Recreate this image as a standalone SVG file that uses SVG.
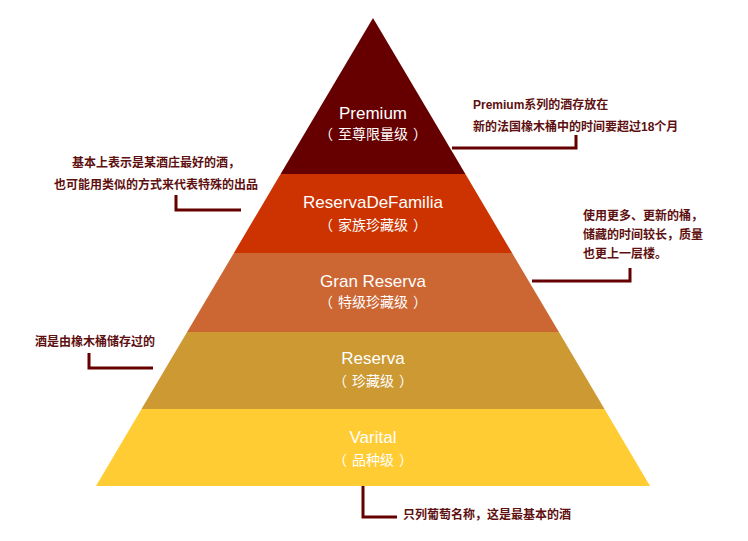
<svg xmlns="http://www.w3.org/2000/svg" width="748" height="541" viewBox="0 0 748 541">
<style>
text{text-spacing-trim:space-all}
.t{font-family:"Liberation Sans","Noto Sans CJK SC",sans-serif;fill:#fff;text-anchor:middle}
.en{font-size:17px}
.zh{font-size:14px;font-family:"Noto Sans CJK SC","Liberation Sans",sans-serif}
.n{font-family:"Liberation Sans","Noto Sans CJK SC",sans-serif;font-size:12px;fill:#5e1010;font-weight:bold}
.c{fill:none;stroke:#660000;stroke-width:3}
</style>
<rect width="748" height="541" fill="#fff"/>
<g id="premium">
<polygon points="373,18 465.4,174 280.6,174" fill="#660000"/>
<text class="t en" x="373" y="119">Premium</text>
<text class="t zh" x="373" y="139">（<tspan dx="5">至尊限量级</tspan><tspan dx="5">）</tspan></text>
</g>
<g id="reservadefamilia">
<polygon points="280.6,174 465.4,174 512.1,253 233.9,253" fill="#cc3300"/>
<text class="t en" x="373" y="208">ReservaDeFamilia</text>
<text class="t zh" x="373" y="230">（<tspan dx="5">家族珍藏级</tspan><tspan dx="5">）</tspan></text>
</g>
<g id="granreserva">
<polygon points="233.9,253 512.1,253 558.9,332 187.1,332" fill="#cc6633"/>
<text class="t en" x="373" y="287">Gran Reserva</text>
<text class="t zh" x="373" y="307">（<tspan dx="5">特级珍藏级</tspan><tspan dx="5">）</tspan></text>
</g>
<g id="reserva">
<polygon points="187.1,332 558.9,332 604.5,409 141.5,409" fill="#cc9933"/>
<text class="t en" x="373" y="364">Reserva</text>
<text class="t zh" x="373" y="386">（<tspan dx="5">珍藏级</tspan><tspan dx="5">）</tspan></text>
</g>
<g id="varital">
<polygon points="141.5,409 604.5,409 650,486 96,486" fill="#ffcc33"/>
<text class="t en" x="373" y="443">Varital</text>
<text class="t zh" x="373" y="465">（<tspan dx="5">品种级</tspan><tspan dx="5">）</tspan></text>
</g>
<g id="connectors">
<polyline class="c" points="452,148 576,148 576,135"/>
<polyline class="c" points="176,195 176,210 241,210"/>
<polyline class="c" points="532,281 630,281 630,268"/>
<polyline class="c" points="89,353 89,368 153,368"/>
<polyline class="c" points="363,486 363,517 397,517"/>
</g>
<g id="notes">
<text class="n" x="473" y="109">Premium系列的酒存放在</text>
<text class="n" x="473" y="131">新的法国橡木桶中的时间要超过18个月</text>
<text class="n" x="72" y="167">基本上表示是某酒庄最好的酒，</text>
<text class="n" x="54" y="189">也可能用类似的方式来代表特殊的出品</text>
<text class="n" x="583" y="220">使用更多、更新的桶，</text>
<text class="n" x="583" y="239">储藏的时间较长，质量</text>
<text class="n" x="583" y="258">也更上一层楼。</text>
<text class="n" x="35" y="346">酒是由橡木桶储存过的</text>
<text class="n" x="403" y="519">只列葡萄名称，这是最基本的酒</text>
</g>
</svg>
